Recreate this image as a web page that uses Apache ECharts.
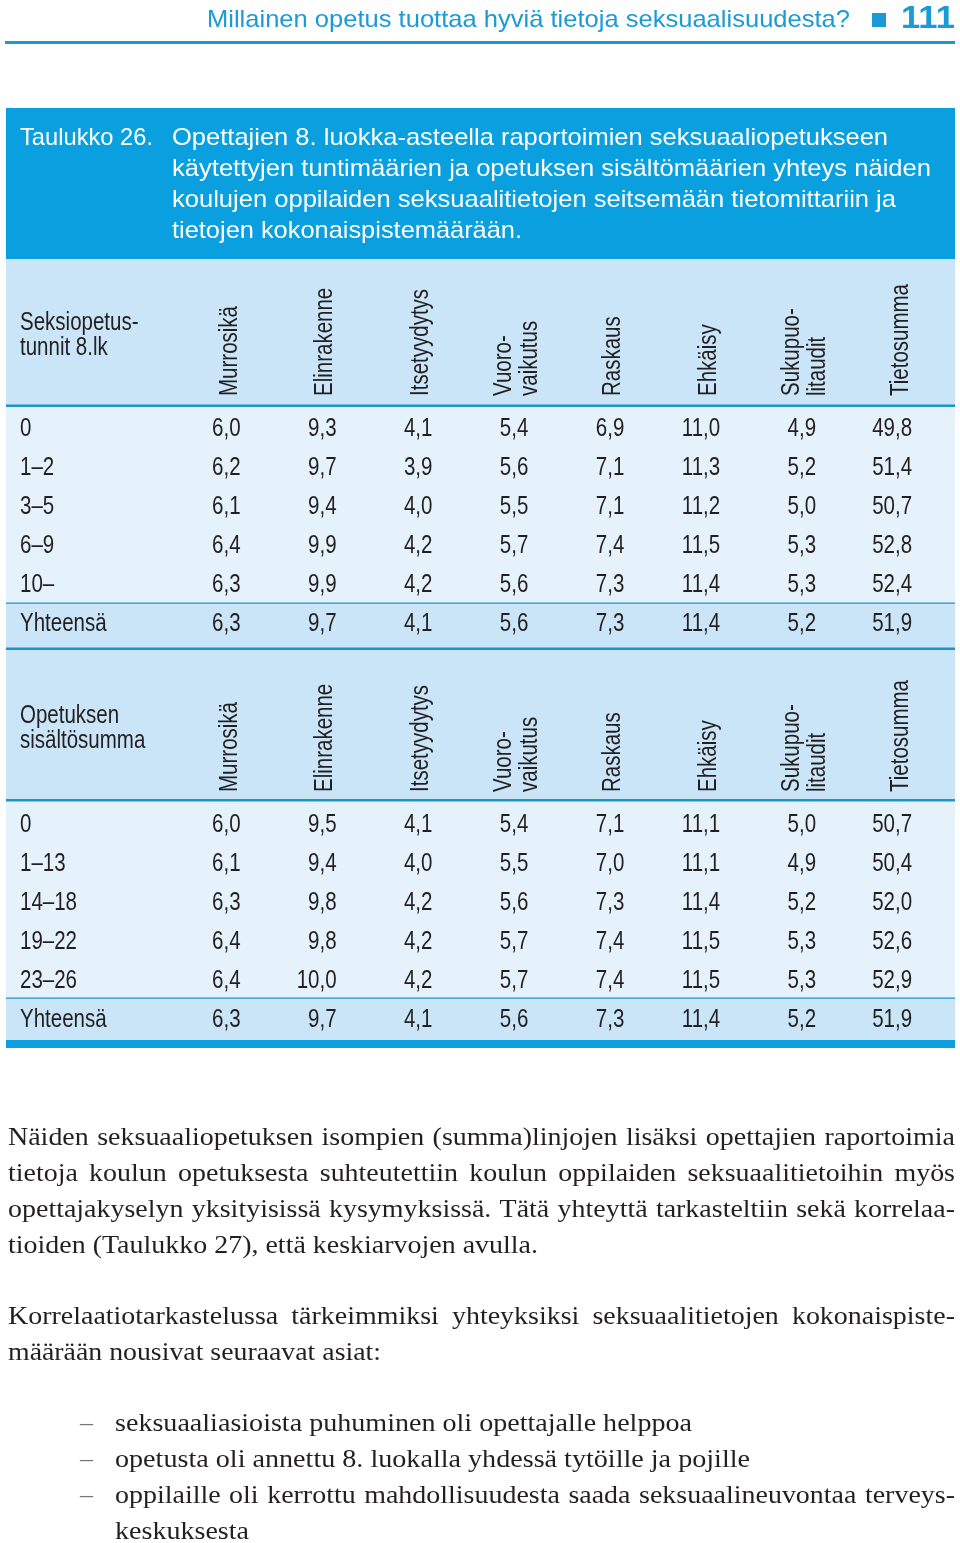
<!DOCTYPE html>
<html><head><meta charset="utf-8">
<script src="https://cdn.jsdelivr.net/npm/echarts@6/dist/echarts.min.js"></script>
<style>html,body{margin:0;padding:0;background:#fff}#c{width:960px;height:1543px}</style>
</head><body><div id="c"></div>
<script>
// ---- data ----
const columns = ['Murrosikä','Elinrakenne','Itsetyydytys','Vuoro-\nvaikutus','Raskaus','Ehkäisy','Sukupuo-\nlitaudit','Tietosumma'];
const rowsHours = ['0','1–2','3–5','6–9','10–','Yhteensä'];
const hoursMurrosika = [6.0,6.2,6.1,6.4,6.3,6.3];
const hoursElinrakenne = [9.3,9.7,9.4,9.9,9.9,9.7];
const hoursItsetyydytys = [4.1,3.9,4.0,4.2,4.2,4.1];
const hoursVuorovaikutus = [5.4,5.6,5.5,5.7,5.6,5.6];
const hoursRaskaus = [6.9,7.1,7.1,7.4,7.3,7.3];
const hoursEhkaisy = [11.0,11.3,11.2,11.5,11.4,11.4];
const hoursSukupuolitaudit = [4.9,5.2,5.0,5.3,5.3,5.2];
const hoursTietosumma = [49.8,51.4,50.7,52.8,52.4,51.9];
const rowsContent = ['0','1–13','14–18','19–22','23–26','Yhteensä'];
const contentMurrosika = [6.0,6.1,6.3,6.4,6.4,6.3];
const contentElinrakenne = [9.5,9.4,9.8,9.8,10.0,9.7];
const contentItsetyydytys = [4.1,4.0,4.2,4.2,4.2,4.1];
const contentVuorovaikutus = [5.4,5.5,5.6,5.7,5.7,5.6];
const contentRaskaus = [7.1,7.0,7.3,7.4,7.4,7.3];
const contentEhkaisy = [11.1,11.1,11.4,11.5,11.5,11.4];
const contentSukupuolitaudit = [5.0,4.9,5.2,5.3,5.3,5.2];
const contentTietosumma = [50.7,50.4,52.0,52.6,52.9,51.9];

const pageTitle = 'Millainen opetus tuottaa hyviä tietoja seksuaalisuudesta?';
const pageNumber = '111';
const captionLabel = 'Taulukko 26.';
const captionLines = ['Opettajien 8. luokka-asteella raportoimien seksuaaliopetukseen',
  'käytettyjen tuntimäärien ja opetuksen sisältömäärien yhteys näiden',
  'koulujen oppilaiden seksuaalitietojen seitsemään tietomittariin ja',
  'tietojen kokonaispistemäärään.'];
const headHours = 'Seksiopetus-\ntunnit 8.lk';
const headContent = 'Opetuksen\nsisältösumma';
const para1 = ['Näiden seksuaaliopetuksen isompien (summa)linjojen lisäksi opettajien raportoimia',
  'tietoja koulun opetuksesta suhteutettiin koulun oppilaiden seksuaalitietoihin myös',
  'opettajakyselyn yksityisissä kysymyksissä. Tätä yhteyttä tarkasteltiin sekä korrelaa-',
  'tioiden (Taulukko 27), että keskiarvojen avulla.'];
const para2 = ['Korrelaatiotarkastelussa tärkeimmiksi yhteyksiksi seksuaalitietojen kokonaispiste-',
  'määrään nousivat seuraavat asiat:'];
const bullets = ['seksuaaliasioista puhuminen oli opettajalle helppoa',
  'opetusta oli annettu 8. luokalla yhdessä tytöille ja pojille',
  'oppilaille oli kerrottu mahdollisuudesta saada seksuaalineuvontaa terveys-',
  'keskuksesta'];

const hoursCols = [hoursMurrosika,hoursElinrakenne,hoursItsetyydytys,hoursVuorovaikutus,hoursRaskaus,hoursEhkaisy,hoursSukupuolitaudit,hoursTietosumma];
const contentCols = [contentMurrosika,contentElinrakenne,contentItsetyydytys,contentVuorovaikutus,contentRaskaus,contentEhkaisy,contentSukupuolitaudit,contentTietosumma];

function cells(cols){
  const out=[];
  cols.forEach((col,ci)=>col.forEach((v,ri)=>out.push([ci,ri,v])));
  return out;
}

// ---- styles ----
const TXT='#231f20', BLUE='#0aa0df', HEAD='#1a9ad6', LINE='#1c95c7', BANDH='#c9e5f7', BANDR='#e5f2fb';
const SANS='"Liberation Sans",Arial,sans-serif';
const SERIF='"Liberation Serif","Times New Roman",serif';
const TFS=25, NX=0.82;

const mctx=document.createElement('canvas').getContext('2d');
function mw(text,size,family,weight){mctx.font=(weight||'normal')+' '+size+'px '+family;return mctx.measureText(text).width;}

const g=[];
function fitText(text,size,family,x,y,targetW,align,fill,weight){
  const s=targetW/mw(text,size,family,weight);
  g.push({type:'text',x:x,y:y,scaleX:s,silent:true,style:{text:text,fontSize:size,fontFamily:family,fontWeight:weight||'normal',fill:fill,textAlign:align,textVerticalAlign:'middle'}});
}
function justify(line,size,family,x,y,targetW,s,fill){
  const words=line.split(' ');
  const ws=words.map(wd=>mw(wd,size,family)*s);
  const sum=ws.reduce((a,b)=>a+b,0);
  const gap=(targetW-sum)/(words.length-1);
  let cx=x;
  words.forEach((wd,i)=>{
    g.push({type:'text',x:cx,y:y,scaleX:s,silent:true,style:{text:wd,fontSize:size,fontFamily:family,fill:fill,textAlign:'left',textVerticalAlign:'middle'}});
    cx+=ws[i]+gap;
  });
}
function rect(x,y,w,h,fill){g.push({type:'rect',silent:true,z:-10,shape:{x:x,y:y,width:w,height:h},style:{fill:fill}});}

// page header
fitText(pageTitle,24,SANS,207,20,643,'left',HEAD);
g.push({type:'rect',silent:true,shape:{x:872,y:13,width:14,height:14},style:{fill:HEAD}});
fitText(pageNumber,32,SANS,955,19,54,'right',HEAD,'bold');
rect(5,41,950,3,HEAD);

// caption box
rect(6,108,949,151,BLUE);
fitText(captionLabel,24,SANS,20,138,133,'left','#fff');
const capEnds=[888,931,896,522];
captionLines.forEach((l,i)=>fitText(l,24,SANS,172,138+i*31,capEnds[i]-172,'left','#fff'));

// table bands
rect(6,259,949,147,BANDH);
rect(6,406,949,197,BANDR);
rect(6,603,949,46,BANDH);
rect(6,649,949,151,BANDH);
rect(6,800,949,198,BANDR);
rect(6,998,949,43,BANDH);
rect(6,404.5,949,2.5,LINE);
rect(6,602.5,949,1.2,LINE);
rect(6,647.5,949,2.5,LINE);
rect(6,799,949,2.5,LINE);
rect(6,997.5,949,1.2,LINE);
rect(6,1040,949,8,BLUE);

// section heads
[[headHours,335.5],[headContent,728.5]].forEach(([t,y])=>{
  g.push({type:'text',x:20,y:y,scaleX:NX,silent:true,style:{text:t,fontSize:TFS,fontFamily:SANS,fill:TXT,textAlign:'left',textVerticalAlign:'middle',lineHeight:25}});
});

// body text
const BFS=26;
const sBody=530/mw(para1[3],BFS,SERIF);
para1.forEach((l,i)=>{
  const y=1138+i*36;
  if(i<3) justify(l,BFS,SERIF,8,y,947,sBody,TXT); else fitText(l,BFS,SERIF,8,y,530,'left',TXT);
});
justify(para2[0],BFS,SERIF,8,1317,947,sBody,TXT);
fitText(para2[1],BFS,SERIF,8,1353,373,'left',TXT);
const bEnds=[692,750,955,249];
bullets.forEach((l,i)=>{
  const y=1424+i*36;
  if(i<3) g.push({type:'text',x:80,y:y,silent:true,style:{text:'–',fontSize:BFS,fontFamily:SERIF,fill:'#777',textAlign:'left',textVerticalAlign:'middle'}});
  if(i===2) justify(l,BFS,SERIF,115,y,840,sBody,TXT);
  else fitText(l,BFS,SERIF,115,y,bEnds[i]-115,'left',TXT);
});

// ---- chart ----
const GL=192.65, BW=96.7;
const fmt=v=>v.toFixed(1).replace('.',',');
function valueSeries(idx,cols){
  return {type:'custom',xAxisIndex:idx,yAxisIndex:idx,silent:true,data:cells(cols),encode:{x:0,y:1},
    renderItem:(params,api)=>{
      const p=api.coord([api.value(0),api.value(1)]);
      return {type:'text',x:p[0],y:p[1],scaleX:NX,
        style:{text:fmt(api.value(2)),fontSize:TFS,fontFamily:SANS,fill:TXT,textAlign:'right',textVerticalAlign:'middle'}};
    }};
}
function rowLabelSeries(idx,rows){
  return {type:'custom',xAxisIndex:idx,yAxisIndex:idx,silent:true,data:rows.map((r,i)=>[0,i]),encode:{x:0,y:1},
    renderItem:(params,api)=>{
      const p=api.coord([0,api.value(1)]);
      return {type:'text',x:20,y:p[1],scaleX:NX,
        style:{text:rows[params.dataIndex],fontSize:TFS,fontFamily:SANS,fill:TXT,textAlign:'left',textVerticalAlign:'middle'}};
    }};
}
const yAxisCommon={type:'category',inverse:true,show:false};

const chart=echarts.init(document.getElementById('c'),null,{renderer:'canvas'});
chart.setOption({
  animation:false,
  grid:[{left:GL,width:BW*8,top:409.5,height:234},{left:GL,width:BW*8,top:805.5,height:234}],
  xAxis:[{type:'category',gridIndex:0,data:columns,show:false},{type:'category',gridIndex:1,data:columns,show:false}],
  yAxis:[Object.assign({gridIndex:0,data:rowsHours},yAxisCommon),Object.assign({gridIndex:1,data:rowsContent},yAxisCommon)],
  series:[valueSeries(0,hoursCols),valueSeries(1,contentCols),rowLabelSeries(0,rowsHours),rowLabelSeries(1,rowsContent)],
  graphic:g
});

// rotated column headers, placed from the category axis
[396,792].forEach(yb=>{
  columns.forEach((c,i)=>{
    const cx=chart.convertToPixel({xAxisIndex:0},i)-11;
    g.push({type:'text',x:cx,y:yb,rotation:Math.PI/2,scaleX:NX,silent:true,
      style:{text:c,fontSize:TFS,fontFamily:SANS,fill:TXT,textAlign:'left',textVerticalAlign:'middle',lineHeight:26}});
  });
});
chart.setOption({graphic:g},{replaceMerge:['graphic']});
</script></body></html>
